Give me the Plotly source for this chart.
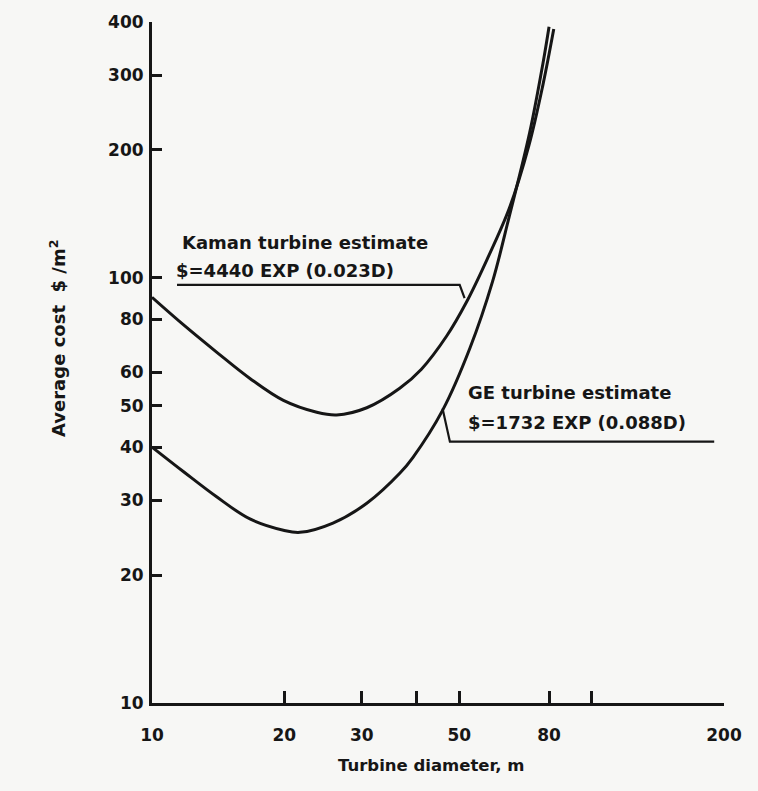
import math
import plotly.graph_objects as go

# ---- data (log-log chart) ----
diam_kaman = [10, 11.8, 14.0, 16.7, 19.9, 23.7, 26.3, 30.8, 36.6, 41.0, 46.8, 52.0, 57.7, 65.0, 72.0, 77.5, 82.0]
cost_kaman = [90, 77.5, 67, 58, 51.5, 48.3, 47.6, 49.5, 55, 61, 73, 88, 110, 146, 205, 285, 385]

diam_ge = [10, 11.8, 14.0, 16.7, 19.9, 21.7, 25.8, 30.8, 36.6, 39.2, 45.8, 52.9, 59.5, 65.0, 72.3, 77.5, 80.0]
cost_ge = [40, 35, 30.6, 27.1, 25.5, 25.2, 26.5, 29.5, 34.7, 37.8, 48.8, 68.5, 98, 140, 220, 320, 390]

# leader lines from the labels to the curves
kaman_leader_x = [11.4, 50.1, 51.4]
kaman_leader_y = [96.3, 96.3, 89.6]
ge_leader_x = [45.8, 47.6, 190]
ge_leader_y = [49.3, 41.2, 41.2]

x_tickvals = [10, 20, 30, 50, 80, 200]
x_ticktext = ["10", "20", "30", "50", "80", "200"]
x_unlabelled_ticks = [40, 100]
y_tickvals = [10, 20, 30, 40, 50, 60, 80, 100, 200, 300, 400]
y_ticktext = ["10", "20", "30", "40", "50", "60", "80", "100", "200", "300", "400"]

kaman_title = "Kaman turbine estimate"
kaman_eq = "$=4440 EXP (0.023D)"
ge_title = "GE turbine estimate"
ge_eq = "$=1732 EXP (0.088D)"

INK = "#161616"
BG = "#f7f7f5"
FONT = "DejaVu Sans"

fig = go.Figure()
for xs, ys in [(diam_kaman, cost_kaman), (diam_ge, cost_ge)]:
    fig.add_trace(go.Scatter(x=xs, y=ys, mode="lines",
                             line=dict(color=INK, width=3, shape="spline", smoothing=1.0),
                             hoverinfo="skip", showlegend=False))
for xs, ys in [(kaman_leader_x, kaman_leader_y), (ge_leader_x, ge_leader_y)]:
    fig.add_trace(go.Scatter(x=xs, y=ys, mode="lines",
                             line=dict(color=INK, width=2.2),
                             hoverinfo="skip", showlegend=False))

lab_font = dict(family=FONT, size=18, color=INK, weight="bold")
L = math.log10
annos = [
    dict(x=L(11.6), y=L(121), text=kaman_title),
    dict(x=L(11.2), y=L(104), text=kaman_eq),
    dict(x=L(51.8), y=L(53.7), text=ge_title),
    dict(x=L(51.8), y=L(45.6), text=ge_eq),
]
for a in annos:
    fig.add_annotation(xref="x", yref="y", showarrow=False, xanchor="left",
                       yanchor="middle", font=lab_font, **a)

fig.add_annotation(xref="paper", yref="paper", x=-0.19, y=0.535,
                   text="Average cost  $ /m<sup>2</sup>", textangle=-90,
                   showarrow=False, font=dict(family=FONT, size=18, color=INK, weight="bold"))
fig.add_annotation(xref="paper", yref="paper", x=0.488, y=-0.108,
                   text="Turbine diameter, m", showarrow=False,
                   font=dict(family=FONT, size=16.5, color=INK, weight="bold"))

tick_font = dict(family=FONT, size=17, color=INK, weight="bold")
fig.update_xaxes(type="log", range=[L(10), L(200)], showgrid=False, zeroline=False,
                 showline=True, linecolor=INK, linewidth=3,
                 ticks="inside", ticklen=12, tickwidth=2.5, tickcolor=INK,
                 tickvals=x_tickvals, ticktext=x_ticktext, tickfont=tick_font,
                 ticklabelstandoff=15,
                 minor=dict(tickmode="array", tickvals=x_unlabelled_ticks, ticks="inside",
                            ticklen=12, tickwidth=2.5, tickcolor=INK, showgrid=False))
fig.update_yaxes(type="log", range=[L(10), L(400)], showgrid=False, zeroline=False,
                 showline=True, linecolor=INK, linewidth=3,
                 ticks="inside", ticklen=10, tickwidth=2.5, tickcolor=INK,
                 tickvals=y_tickvals, ticktext=y_ticktext, tickfont=tick_font,
                 ticklabelstandoff=2)

fig.update_layout(width=758, height=791,
                  margin=dict(l=152, r=34, t=20, b=88),
                  paper_bgcolor=BG, plot_bgcolor=BG, showlegend=False)

fig.write_html("out.html")
